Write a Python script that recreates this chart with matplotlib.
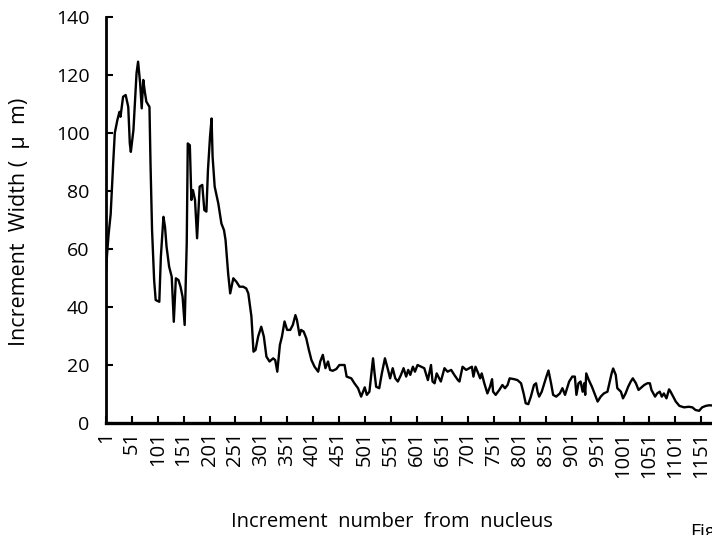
import matplotlib
matplotlib.use("Agg")
import matplotlib.pyplot as plt

increment = [1, 3, 6, 10, 15, 18, 23, 27, 29, 34, 39, 44, 47, 49, 54, 60, 63, 67, 70,
             73, 76, 79, 85, 87, 90, 94, 97, 104, 107, 112, 115, 118, 123, 128, 132,
             136, 141, 145, 149, 153, 157, 159, 163, 166, 169, 173, 177, 182, 187, 191,
             195, 198, 202, 205, 207, 211, 218, 224, 229, 232, 237, 241, 247, 253, 259,
             266, 272, 276, 282, 286, 290, 295, 301, 306, 311, 317, 324, 328, 332, 337,
             341, 346, 351, 357, 362, 367, 370, 375, 378, 383, 388, 393, 398, 404, 411,
             415, 420, 425, 430, 434, 439, 446, 452, 462, 466, 475, 481, 488, 494, 501,
             505, 510, 517, 520, 523, 529, 534, 540, 546, 550, 555, 560, 565, 571, 576,
             581, 585, 589, 594, 598, 603, 610, 616, 623, 629, 632, 636, 640, 645, 648,
             655, 661, 668, 674, 681, 684, 690, 697, 703, 708, 711, 715, 719, 724, 727,
             732, 735, 738, 743, 747, 749, 754, 761, 767, 772, 777, 781, 790, 796, 803,
             808, 812, 817, 822, 828, 832, 835, 838, 843, 848, 852, 856, 861, 865, 871,
             878, 883, 888, 896, 902, 907, 910, 914, 918, 922, 925, 927, 929, 934, 940,
             946, 951, 957, 963, 970, 973, 978, 981, 986, 989, 996, 1000, 1005, 1010,
             1015, 1019, 1025, 1030, 1034, 1041, 1047, 1052, 1055, 1062, 1066, 1071,
             1075, 1079, 1084, 1089, 1092, 1097, 1102, 1109, 1118, 1127, 1134, 1140,
             1147, 1153, 1160, 1166, 1180]
width = [52, 58, 65, 72, 90, 100, 104.5, 107.3, 105.6, 112.5, 113.1, 109, 96.4, 93.5,
         101, 120.6, 124.6, 117.1, 108.5, 118.3, 114.2, 110.8, 109, 89.5, 66.5, 49.3,
         42.4, 41.8, 57.3, 71.1, 67.7, 60.8, 53.9, 50.4, 34.9, 49.9, 49.3, 47, 43.5,
         33.8, 61.9, 96.4, 95.8, 76.9, 80.3, 76.9, 63.7, 81.5, 82.1, 73.4, 72.9, 87.2,
         98.7, 105, 91.8, 81.5, 75.7, 68.8, 66.5, 63.1, 51.6, 44.7, 49.9, 48.7, 47,
         47, 46.4, 44.7, 36.7, 24.6, 25.2, 29.8, 33.2, 29.8, 22.9, 21.2, 22.3, 21.7,
         17.7, 26.9, 29.8, 35, 32.1, 32.1, 33.8, 37.2, 35.5, 30.3, 32.1, 31.5, 29.2,
         25.2, 21.7, 19.4, 17.7, 21.2, 23.5, 18.9, 21.2, 18.3, 18, 18.6, 20, 20, 16,
         15.4, 13.7, 12, 9.1, 12.3, 9.7, 10.8, 22.3, 17.1, 12.5, 12, 17.1, 22.3, 18.3,
         15.4, 18.9, 15.4, 14.3, 16.6, 18.9, 16, 18.3, 16.6, 19.4, 17.7, 20, 19.4,
         18.9, 14.8, 20, 14.3, 13.7, 17.1, 15.4, 14.3, 18.9, 17.7, 18.3, 16.6, 14.8,
         14.3, 19.4, 18.3, 18.9, 19.4, 16, 19.4, 17.7, 15.4, 17.1, 13.7, 12, 10.2,
         12.5, 15.1, 10.8, 9.7, 11.4, 13.1, 12, 13.1, 15.4, 15.1, 14.8, 13.7, 10.2,
         6.8, 6.5, 9.1, 13.1, 13.7, 10.8, 9.1, 10.8, 13.7, 16, 18.1, 13.7, 9.7, 9.1,
         10.2, 12, 9.7, 14.3, 16, 16, 9.7, 13.7, 14.3, 10.8, 13.7, 9.7, 17.1, 14.8,
         12.5, 9.7, 7.4, 9.1, 10.2, 10.8, 13.1, 17.1, 18.8, 16.6, 12, 10.8, 8.5, 10.2,
         12.5, 14.3, 15.4, 13.7, 11.4, 12, 13.1, 13.7, 13.7, 11.4, 9.1, 10.2, 10.8,
         9.1, 10.2, 8.5, 11.6, 10.8, 9.1, 7.4, 5.9, 5.4, 5.6, 5.4, 4.5, 4.2, 5.4, 5.9,
         6.1, 6.0]

x_ticks = list(range(1, 1152, 50))
y_ticks = list(range(0, 141, 20))

plt.rcParams['font.family'] = ['Open Sans', 'DejaVu Sans']

fig = plt.figure(figsize=(7.12, 5.35), dpi=100)
ax = fig.add_axes([106 / 712, 112 / 535, 1 - 106 / 712, 406 / 535])

ax.plot(increment, width, color='black', linewidth=1.7)

ax.set_xlim(1, 1172)
ax.set_ylim(0, 140)
ax.set_xticks(x_ticks)
ax.set_xticklabels([str(t) for t in x_ticks], rotation=90, fontsize=14.5)
ax.set_yticks(y_ticks)
ax.set_yticklabels([str(t) for t in y_ticks], fontsize=14)

ax.spines['top'].set_visible(False)
ax.spines['right'].set_visible(False)
ax.spines['left'].set_linewidth(2)
ax.spines['bottom'].set_linewidth(2.4)
ax.tick_params(axis='both', direction='in', length=5, width=1.5)
ax.tick_params(axis='y', pad=12)
ax.tick_params(axis='x', pad=6)

fig.text(20 / 712, 1 - 222 / 535, 'Increment  Width (  \u03bc  m)', rotation=90,
         ha='center', va='center', fontsize=15.5)
fig.text(392 / 712, 1 - 522 / 535, 'Increment  number  from  nucleus',
         ha='center', va='center', fontsize=14.5)
fig.text(690 / 712, 0.006, 'Fig.', ha='left', va='center', fontsize=14)

fig.savefig('out.png', dpi=100)
